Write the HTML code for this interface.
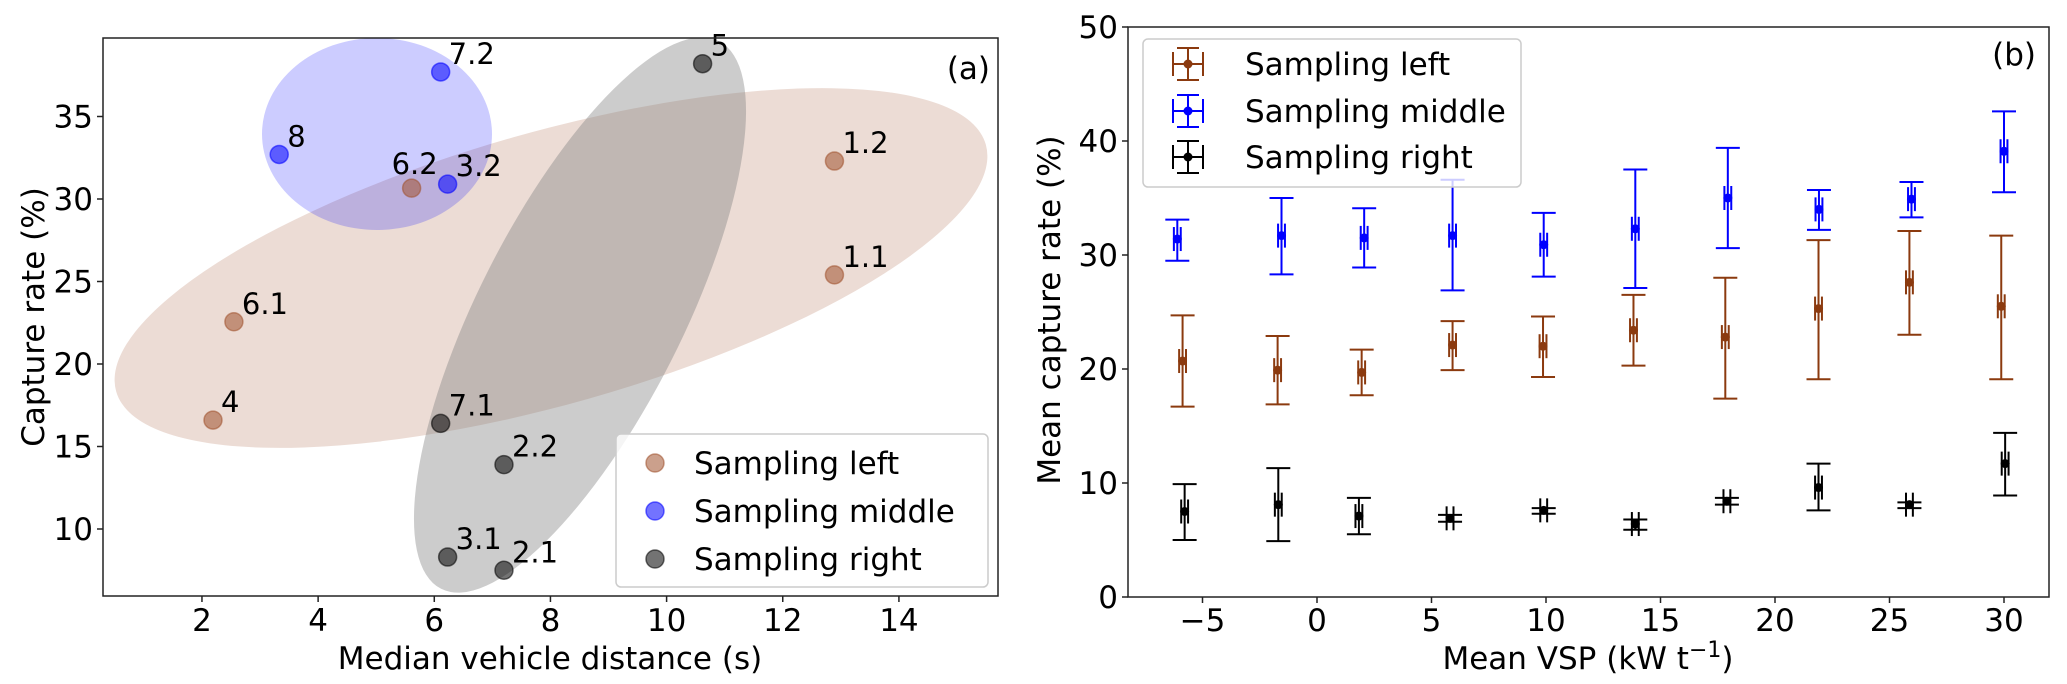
<!DOCTYPE html>
<html><head><meta charset="utf-8"><style>
html,body{margin:0;padding:0;background:#fff;}
svg{display:block;font-family:"DejaVu Sans","Liberation Sans",sans-serif;}
</style></head><body>
<svg id="fig" width="2067" height="684" viewBox="0 0 2067 684" xmlns="http://www.w3.org/2000/svg">
<g id="pa"></g>
<g id="pb"></g>
</svg>
<script>
// ---------- Panel (a) data ----------
const aLabels = ["4","6.1","6.2","1.2","1.1","8","7.2","3.2","5","7.1","2.2","3.1","2.1"];
const aX = [2.19,2.55,5.61,12.89,12.89,3.33,6.11,6.23,10.62,6.11,7.2,6.23,7.2];
const aY = [16.6,22.56,30.66,32.3,25.4,32.7,37.7,30.9,38.2,16.4,13.9,8.3,7.5];
const aGroup = [0,0,0,0,0,1,1,1,2,2,2,2,2];
const aXTicks = [2,4,6,8,10,12,14];
const aYTicks = [10,15,20,25,30,35];
const groupNames = ["Sampling left","Sampling middle","Sampling right"];

// ---------- Panel (b) data ----------
const leftX = [-5.87,-1.72,1.95,5.92,9.87,13.82,17.83,21.9,25.87,29.88];
const leftY = [20.7,19.9,19.7,22.1,22.0,23.4,22.8,25.3,27.6,25.5];
const leftLo = [16.7,16.9,17.7,19.9,19.3,20.3,17.4,19.1,23.0,19.1];
const leftHi = [24.7,22.9,21.7,24.2,24.6,26.5,28.0,31.3,32.1,31.7];
const midX = [-6.1,-1.55,2.06,5.92,9.9,13.9,17.94,21.92,25.96,30.0];
const midY = [31.4,31.7,31.5,31.7,30.9,32.3,35.0,34.0,34.9,39.1];
const midLo = [29.5,28.3,28.9,26.9,28.1,27.1,30.6,32.2,33.3,35.5];
const midHi = [33.1,35.0,34.1,36.6,33.7,37.5,39.4,35.7,36.4,42.6];
const rightX = [-5.78,-1.69,1.83,5.81,9.9,13.9,17.9,21.9,25.87,30.05];
const rightY = [7.5,8.1,7.1,6.9,7.6,6.4,8.4,9.6,8.1,11.7];
const rightLo = [5.0,4.9,5.5,6.6,7.3,5.9,8.1,7.6,7.8,8.9];
const rightHi = [9.9,11.3,8.7,7.2,7.8,6.8,8.7,11.7,8.3,14.4];
const xErr = [0.15,0.15,0.15,0.15,0.15,0.15,0.15,0.15,0.15,0.15];
const bXTicks = [-5,0,5,10,15,20,25,30];
const bYTicks = [0,10,20,30,40,50];

const NS="http://www.w3.org/2000/svg";
function mk(parent,tag,attrs,text){const e=document.createElementNS(NS,tag);for(const k in attrs)e.setAttribute(k,attrs[k]);if(text!==undefined)e.textContent=text;parent.appendChild(e);return e;}

// ===== Panel a =====
const pa=document.getElementById('pa');
const AL=103,AR=998,AT=38,AB=596;
const ax=v=>85.8+v*58.08;
const ay=v=>529-(v-10)*16.5;
mk(pa,'defs',{}).innerHTML='<clipPath id="clipA"><rect x="103" y="38" width="895" height="558"/></clipPath>';
const ell=mk(pa,'g',{'clip-path':'url(#clipA)'});


let e1=mk(ell,'ellipse',{cx:551,cy:268,rx:452,ry:136,transform:'rotate(-15.85 551 268)',fill:'#a0522d','fill-opacity':0.2});


let e2=mk(ell,'ellipse',{cx:377,cy:134,rx:115,ry:96,fill:'#0000ff','fill-opacity':0.2});


let e3=mk(ell,'ellipse',{cx:580,cy:315,rx:307,ry:102,transform:'rotate(-63.1 580 315)',fill:'#808080','fill-opacity':0.4});


const aFill=['#a0522d','#0000ff','#000000'];
for(let i=0;i<aX.length;i++){
  const cx=ax(aX[i]),cy=ay(aY[i]);
  const c=mk(pa,'circle',{cx:cx,cy:cy,r:9,fill:aFill[aGroup[i]],'fill-opacity':0.55,stroke:aFill[aGroup[i]],'stroke-opacity':0.55,'stroke-width':1.5});
  
  
  const special = aLabels[i]==="6.2";
  const t=mk(pa,'text',special?{x:cx+3,y:cy-14,'font-size':29,'text-anchor':'middle'}:{x:cx+8,y:cy-8,'font-size':29,fill:'#000'},aLabels[i]);
  
  
}
let fa=mk(pa,'rect',{x:AL,y:AT,width:AR-AL,height:AB-AT,fill:'none',stroke:'#222','stroke-width':1.5});


aXTicks.forEach(v=>{const x=ax(v);mk(pa,'line',{x1:x,x2:x,y1:AB,y2:AB+6,stroke:'#222','stroke-width':1.5});
  const t=mk(pa,'text',{x:x,y:631,'font-size':31,'text-anchor':'middle'},String(v));
  
  });
aYTicks.forEach(v=>{const y=ay(v);mk(pa,'line',{x1:AL-6,x2:AL,y1:y,y2:y,stroke:'#222','stroke-width':1.5});
  const t=mk(pa,'text',{x:AL-10,y:y+11,'font-size':31,'text-anchor':'end'},String(v));
  
  });
let xl=mk(pa,'text',{x:550,y:669,'font-size':31,'text-anchor':'middle'},'Median vehicle distance (s)');


let yl=mk(pa,'text',{x:0,y:0,'font-size':31,'text-anchor':'middle',transform:'translate(44 317) rotate(-90)'},'Capture rate (%)');


let pl=mk(pa,'text',{x:990,y:79,'font-size':31,'text-anchor':'end'},'(a)');


const lga=mk(pa,'g',{});


mk(lga,'rect',{x:616,y:434,width:372,height:153,rx:5,fill:'#fff','fill-opacity':0.8,stroke:'#ccc','stroke-width':1.5});
[463,511,559].forEach((y,i)=>{
  const c=mk(lga,'circle',{cx:655,cy:y,r:9,fill:aFill[i],'fill-opacity':0.55,stroke:aFill[i],'stroke-opacity':0.55,'stroke-width':1.5});
  
  
  const t=mk(lga,'text',{x:694,y:y+11,'font-size':31},groupNames[i]);
  
  
});

// ===== Panel b =====
const pb=document.getElementById('pb');
const BL=1128,BR=2049,BT=27,BB=597;
const bx=v=>1317+v*22.9;
const by=v=>597-v*11.4;
const bCol=['#8b3a0f','#0000ff','#000000'];
const series=[[leftX,leftY,leftLo,leftHi],[midX,midY,midLo,midHi],[rightX,rightY,rightLo,rightHi]];
series.forEach((s,si)=>{
  const g=mk(pb,'g',{stroke:bCol[si],fill:bCol[si],'stroke-width':2});
  
  
  for(let i=0;i<s[0].length;i++){
    const x=bx(s[0][i]),y=by(s[1][i]),lo=by(s[2][i]),hi=by(s[3][i]);
    mk(g,'line',{x1:x,x2:x,y1:lo,y2:hi});
    mk(g,'line',{x1:x-12,x2:x+12,y1:lo,y2:lo});
    mk(g,'line',{x1:x-12,x2:x+12,y1:hi,y2:hi});
    const xl0=bx(s[0][i]-xErr[i]),xr0=bx(s[0][i]+xErr[i]);
    mk(g,'line',{x1:xl0,x2:xr0,y1:y,y2:y});
    mk(g,'line',{x1:xl0,x2:xl0,y1:y-12,y2:y+12});
    mk(g,'line',{x1:xr0,x2:xr0,y1:y-12,y2:y+12});
    const c=mk(g,'circle',{cx:x,cy:y,r:4.5,stroke:'none'});
    
    
  }
});
let fb=mk(pb,'rect',{x:BL,y:BT,width:BR-BL,height:BB-BT,fill:'none',stroke:'#222','stroke-width':1.5});


bXTicks.forEach(v=>{const x=bx(v);mk(pb,'line',{x1:x,x2:x,y1:BB,y2:BB+6,stroke:'#222','stroke-width':1.5});
  const t=mk(pb,'text',{x:x,y:631,'font-size':31,'text-anchor':'middle'},v<0?'\u2212'+(-v):String(v));
  
  });
bYTicks.forEach(v=>{const y=by(v);mk(pb,'line',{x1:BL-6,x2:BL,y1:y,y2:y,stroke:'#222','stroke-width':1.5});
  const t=mk(pb,'text',{x:BL-10,y:y+11,'font-size':31,'text-anchor':'end'},String(v));
  
  });
let xlb=mk(pb,'text',{x:1588,y:669,'font-size':31,'text-anchor':'middle'});
xlb.innerHTML='Mean VSP (kW t<tspan dy="-12" font-size="22">\u22121</tspan><tspan dy="12">)</tspan>';


let ylb=mk(pb,'text',{x:0,y:0,'font-size':31,'text-anchor':'middle',transform:'translate(1060 310) rotate(-90)'},'Mean capture rate (%)');


let plb=mk(pb,'text',{x:2036,y:65,'font-size':31,'text-anchor':'end'},'(b)');


const lgb=mk(pb,'g',{});


mk(lgb,'rect',{x:1143,y:39,width:378,height:148,rx:5,fill:'#fff','fill-opacity':0.8,stroke:'#ccc','stroke-width':1.5});
[64,111,157].forEach((y,i)=>{
  const g=mk(lgb,'g',{stroke:bCol[i],fill:bCol[i],'stroke-width':2});
  
  
  mk(g,'line',{x1:1173,x2:1203,y1:y,y2:y});
  mk(g,'line',{x1:1188,x2:1188,y1:y-16,y2:y+16});
  mk(g,'line',{x1:1177,x2:1199,y1:y-16,y2:y-16});
  mk(g,'line',{x1:1177,x2:1199,y1:y+16,y2:y+16});
  mk(g,'line',{x1:1173,x2:1173,y1:y-12,y2:y+12});
  mk(g,'line',{x1:1203,x2:1203,y1:y-12,y2:y+12});
  mk(g,'circle',{cx:1188,cy:y,r:4.5,stroke:'none'});
  const t=mk(lgb,'text',{x:1245,y:y+11,'font-size':31},groupNames[i]);
  
  
});
</script>
</body></html>
